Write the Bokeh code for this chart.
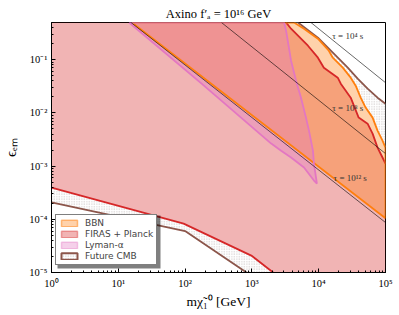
import numpy as np
from bokeh.plotting import figure
from bokeh.models import (Label, Legend, LegendItem, CustomJSTickFormatter,
                          LogTicker, Range1d, BoxAnnotation)
from bokeh.embed import file_html
from bokeh.resources import INLINE

# ---------------- data ----------------
x_lim = [1.0, 1.0e5]
y_lim = [1.0e-5, 0.5]

# FIRAS + Planck: right (short-lifetime) edge, top -> right frame
firas_right_m = [3250, 3855, 5430, 6905, 9730, 11950, 19300, 21400, 30150, 39650, 53950, 64100, 76000, 90200, 1.0e5]
firas_right_eps = [0.5, 0.382, 0.248, 0.183, 0.109, 0.0708, 0.0459, 0.0354, 0.0193, 0.00815, 0.00628, 0.00407, 0.00222, 0.00145, 0.00111]
# FIRAS + Planck: lower edge, left -> bottom frame
firas_low_m = [1.0, 95.0, 980.0, 2080.0]
firas_low_eps = [3.95e-4, 8.3e-5, 2.08e-5, 1.0e-5]

# BBN: lower-left diagonal edge and right edge
bbn_low_m = [16.0, 1.0e5]
bbn_low_eps = [0.5, 1.05e-4]
bbn_right_m = [4276, 6025, 9730, 14180, 16260, 22930, 30150, 35800, 42500, 50400, 64100, 76000, 90200, 1.0e5]
bbn_right_eps = [0.5, 0.382, 0.248, 0.1476, 0.109, 0.0708, 0.0459, 0.0325, 0.0193, 0.01257, 0.00815, 0.00465, 0.00301, 0.00222]

# Lyman-alpha: left edge (top -> tip) and right edge (top -> tip)
lya_left_m = [14.5, 176.6, 1945, 2740, 3855, 6025, 8490, 9400]
lya_left_eps = [0.5, 0.0354, 2.65e-3, 1.95e-3, 1.45e-3, 9.4e-4, 5.35e-4, 4.69e-4]
lya_right_m = [3035, 3250, 3855, 4580, 5430, 6450, 7150, 8200, 8490, 9400]
lya_right_eps = [0.5, 0.351, 0.0957, 0.0404, 0.0193, 0.00815, 0.00465, 0.00195, 0.00111, 4.69e-4]

# Future CMB: upper-right edge and lower-left edge
cmb_up_m = [4900, 9730, 16840, 27200, 38300, 53950, 76000, 1.0e5]
cmb_up_eps = [0.5, 0.259, 0.130, 0.0708, 0.0439, 0.0285, 0.0193, 0.0149]
cmb_low_m = [1.0, 100.0, 830.0]
cmb_low_eps = [2.07e-4, 6.0e-5, 1.0e-5]

# lifetime contours
tau_labels = ["τ = 10⁴ s", "τ = 10⁸ s", "τ = 10¹² s"]
tau_m = [[7650, 1.0e5], [350, 1.0e5], [15.5, 1.0e5]]
tau_eps = [[0.5, 0.0370], [0.5, 1.72e-3], [0.5, 8.7e-5]]
tau_label_m = [27200, 27200, 29600]
tau_label_eps = [0.283, 0.01257, 6.08e-4]

legend_labels = ["BBN", "FIRAS + Planck", "Lyman-α", "Future CMB"]
title_text = "Axino f′ₐ = 10¹⁶ GeV"
x_label = "mχ̃₁⁰ [GeV]"
y_label = "ϵₑₘ"

# ---------------- colours ----------------
C_BBN = "#ff7f0e"
C_FIRAS = "#d62728"
C_LYA = "#e377c2"
C_CMB = "#8c564b"
ALPHA = 0.35
SERIF = "Liberation Serif"

p = figure(width=399, height=315, x_axis_type="log", y_axis_type="log",
           x_range=Range1d(*x_lim), y_range=Range1d(*y_lim),
           output_backend="svg", toolbar_location=None,
           min_border_left=49, min_border_right=14, min_border_top=22,
           min_border_bottom=43, title=title_text)
p.title.text_font = SERIF
p.title.text_font_size = "12.5px"
p.title.text_font_style = "normal"
p.title.align = "center"
p.title.standoff = 4
p.title.text_color = "black"

p.xgrid.visible = False
p.ygrid.visible = False
p.outline_line_color = "black"
p.outline_line_width = 1
p.background_fill_color = "white"
p.border_fill_color = "white"

fmt = CustomJSTickFormatter(code="""
const sup = {"-":"\u207b","0":"\u2070","1":"\u00b9","2":"\u00b2","3":"\u00b3","4":"\u2074",
             "5":"\u2075","6":"\u2076","7":"\u2077","8":"\u2078","9":"\u2079"};
const e = Math.round(Math.log10(tick));
return "10" + String(e).split("").map(c => sup[c]).join("");
""")
for ax in (p.xaxis[0], p.yaxis[0]):
    ax.ticker = LogTicker(num_minor_ticks=10)
    ax.formatter = fmt
    ax.axis_line_color = "black"
    ax.major_tick_in = 4
    ax.major_tick_out = 0
    ax.minor_tick_in = 2
    ax.minor_tick_out = 0
    ax.major_tick_line_color = "black"
    ax.minor_tick_line_color = "black"
    ax.major_label_text_font = SERIF
    ax.major_label_text_font_size = "10.5px"
    ax.major_label_text_color = "black"
    ax.axis_label_text_font = SERIF
    ax.axis_label_text_font_style = "normal"
    ax.axis_label_text_color = "black"
p.xaxis.major_label_standoff = 5
p.yaxis.major_label_standoff = 4
p.xaxis.axis_label = x_label
p.xaxis.axis_label_text_font_size = "13.5px"
p.xaxis.axis_label_standoff = 2
p.yaxis.axis_label = y_label
p.yaxis.axis_label_text_font_size = "15px"
p.yaxis.axis_label_standoff = 7

# ---------------- fills ----------------
band_up_x = cmb_up_m + bbn_right_m[::-1]
band_up_y = cmb_up_eps + bbn_right_eps[::-1]
band_lo_x = cmb_low_m + firas_low_m[::-1]
band_lo_y = cmb_low_eps + firas_low_eps[::-1]
HATCH = dict(hatch_pattern="dot", hatch_color="#8c8080", hatch_alpha=0.5, hatch_scale=2.5, hatch_weight=0.6)
for bx, by in ((band_up_x, band_up_y), (band_lo_x, band_lo_y)):
    p.patch(bx, by, fill_color="white", fill_alpha=1.0, line_color=None, **HATCH)

firas_x = [x_lim[0]] + firas_right_m + [x_lim[1]] + firas_low_m[::-1]
firas_y = [y_lim[1]] + firas_right_eps + [y_lim[0]] + firas_low_eps[::-1]
p.patch(firas_x, firas_y, fill_color=C_FIRAS, fill_alpha=ALPHA, line_color=None)

bbn_x = bbn_low_m + bbn_right_m[::-1]
bbn_y = bbn_low_eps + bbn_right_eps[::-1]
p.patch(bbn_x, bbn_y, fill_color=C_BBN, fill_alpha=ALPHA, line_color=None)

lya_x = lya_left_m + lya_right_m[::-1]
lya_y = lya_left_eps + lya_right_eps[::-1]
p.patch(lya_x, lya_y, fill_color=C_LYA, fill_alpha=ALPHA, line_color=None)

# ---------------- edges ----------------
LW = 1.8
p.line(cmb_up_m, cmb_up_eps, line_color=C_CMB, line_width=LW)
p.line(cmb_low_m, cmb_low_eps, line_color=C_CMB, line_width=LW)
p.line(firas_right_m, firas_right_eps, line_color=C_FIRAS, line_width=LW)
p.line(firas_low_m, firas_low_eps, line_color=C_FIRAS, line_width=LW)
p.line(bbn_x + [bbn_x[0]], bbn_y + [bbn_y[0]], line_color=C_BBN, line_width=LW)
p.line(lya_x + [lya_x[0]], lya_y + [lya_y[0]], line_color=C_LYA, line_width=LW)

for tm, te in zip(tau_m, tau_eps):
    p.line(tm, te, line_color="black", line_width=0.7, line_alpha=0.85)
for txt, lm, le in zip(tau_labels, tau_label_m, tau_label_eps):
    p.add_layout(Label(x=lm, y=le, text=txt, text_align="center", text_baseline="middle",
                       text_font=SERIF, text_font_size="9px", text_color="#333333"))

# ---------------- legend (proxy patches, hidden from the plot area) ----------------
leg_bbn = p.patch(bbn_x, bbn_y, fill_color=C_BBN, fill_alpha=ALPHA, line_color=C_BBN,
                  line_alpha=0.5, line_width=1.5, visible=False)
leg_firas = p.patch(firas_x, firas_y, fill_color=C_FIRAS, fill_alpha=ALPHA, line_color=C_FIRAS,
                    line_alpha=0.4, line_width=1.5, visible=False)
leg_lya = p.patch(lya_x, lya_y, fill_color=C_LYA, fill_alpha=ALPHA, line_color=C_LYA,
                  line_alpha=0.4, line_width=1.5, visible=False)
leg_cmb = p.patch(band_up_x, band_up_y, fill_color="white", line_color=C_CMB, line_width=2,
                  visible=False, **HATCH)

# legend drop shadow (frame-relative pixels)
p.add_layout(BoxAnnotation(left=6, right=109, bottom=4, top=57,
                           left_units="screen", right_units="screen",
                           bottom_units="screen", top_units="screen",
                           fill_color="black", fill_alpha=0.5, line_color=None))

legend = Legend(items=[LegendItem(label=legend_labels[0], renderers=[leg_bbn]),
                       LegendItem(label=legend_labels[1], renderers=[leg_firas]),
                       LegendItem(label=legend_labels[2], renderers=[leg_lya]),
                       LegendItem(label=legend_labels[3], renderers=[leg_cmb])],
                location=(4, 7), label_text_font="DejaVu Sans", label_text_font_size="9px",
                glyph_width=20, glyph_height=8, label_height=9, spacing=1, padding=3,
                label_standoff=6, margin=0, border_line_color="black", border_line_width=1,
                background_fill_alpha=1.0, click_policy="none",
                inactive_fill_alpha=0.0)
p.add_layout(legend)

open("out.html", "w", encoding="utf-8").write(file_html(p, INLINE))
